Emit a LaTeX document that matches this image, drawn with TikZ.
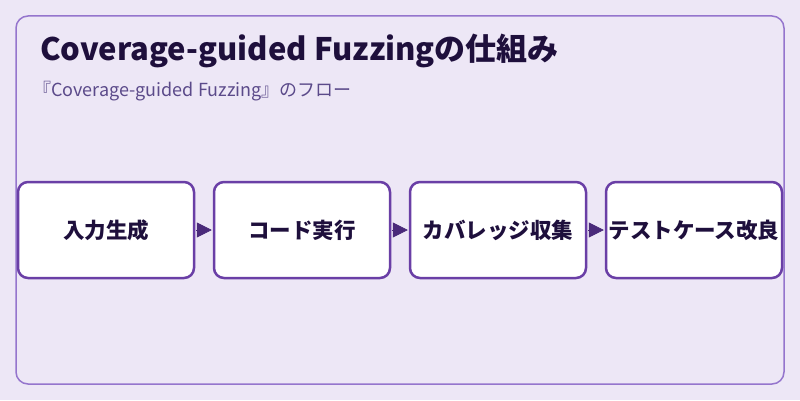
\documentclass[tikz,border=0pt]{standalone}
\usepackage{fontspec}
\setmainfont{Noto Sans CJK JP}
\usetikzlibrary{positioning}
\usetikzlibrary{arrows.meta}

\definecolor{bgpurple}{HTML}{EDE7F6}
\definecolor{framepurple}{HTML}{9575CD}
\definecolor{boxpurple}{HTML}{6A3FA6}
\definecolor{arrowpurple}{HTML}{4A2A7A}
\definecolor{titleink}{HTML}{1E0F3C}
\definecolor{subink}{HTML}{5B4A8A}

\tikzset{
  stage/.style={draw=boxpurple, line width=2.5pt, fill=white, rounded corners=10pt,
    minimum width=176pt, minimum height=96pt, inner sep=0pt,
    font=\fontsize{21.5pt}{24pt}\selectfont\bfseries, text=titleink},
  flow/.style={-{Triangle[length=15pt,width=15pt]}, arrowpurple, line width=0.5pt,
    shorten <=1pt, shorten >=1pt}
}

\begin{document}
\begin{tikzpicture}[x=1pt,y=1pt]
\fill[bgpurple] (0,0) rectangle (800,400);
\useasboundingbox (0,0) rectangle (800,400);
\draw[framepurple, line width=1.5pt, rounded corners=12pt] (16,16) rectangle (784,384);
\node[anchor=base west, text=titleink, font=\fontsize{31pt}{33pt}\selectfont\bfseries, inner sep=0pt] (title) at (40,340) {Coverage-guided Fuzzingの仕組み};
\node[anchor=base west, text=subink, font=\fontsize{18pt}{20pt}\selectfont, inner sep=0pt] (subtitle) at (33,304) {『Coverage-guided Fuzzing』のフロー};
% stages
\node[stage] (gen) at (106,170) {入力生成};
\node[stage, right=17.5pt of gen] (exec) {コード実行};
\node[stage, right=17.5pt of exec] (cov) {カバレッジ収集};
\node[stage, right=17.5pt of cov] (refine) {テストケース改良};
% arrows
\draw[flow] (gen) -- (exec);
\draw[flow] (exec) -- (cov);
\draw[flow] (cov) -- (refine);
\end{tikzpicture}
\end{document}
